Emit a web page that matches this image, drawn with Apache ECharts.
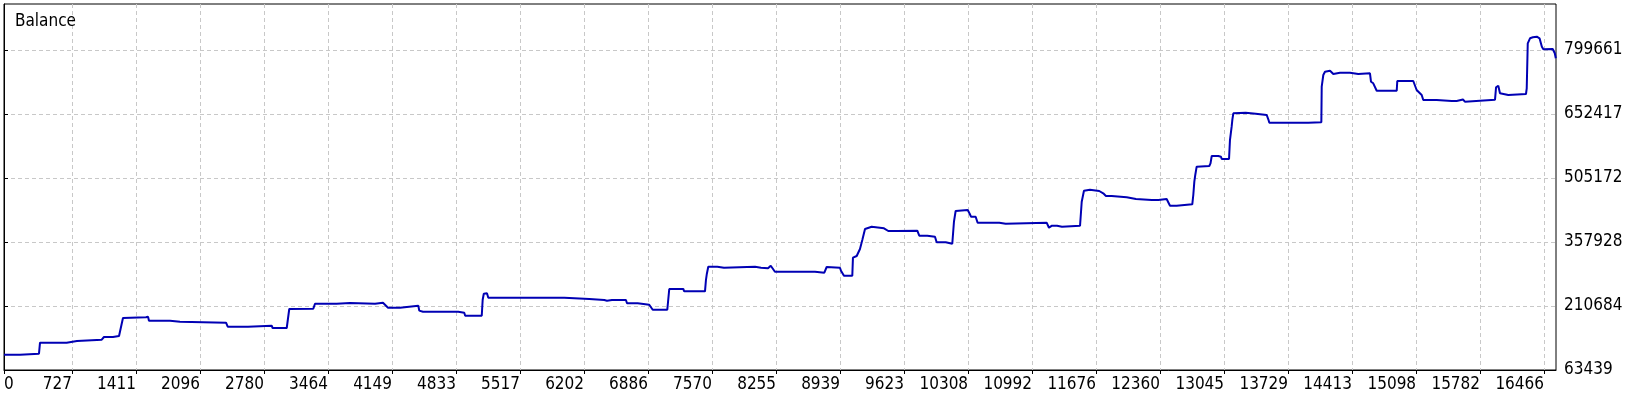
<!DOCTYPE html>
<html>
<head>
<meta charset="utf-8">
<script src="https://cdn.jsdelivr.net/npm/echarts@6/dist/echarts.min.js"></script>
<style>
html,body{margin:0;padding:0;background:#fff;}
#c{width:1640px;height:400px;}
</style>
</head>
<body>
<div id="c"></div>
<script>
var TITLE = 'Balance';
var X_TICKS = [0, 727, 1411, 2096, 2780, 3464, 4149, 4833, 5517, 6202, 6886, 7570, 8255, 8939, 9623, 10308, 10992, 11676, 12360, 13045, 13729, 14413, 15098, 15782, 16466];
var Y_TICKS = [63439, 210684, 357928, 505172, 652417, 799661];
var X_MIN = 0, X_MAX = 16594;
var Y_MIN = 63439, Y_MAX = 905500;

var tradeIndex = [0,171,180,374,385,670,680,780,790,1045,1069,1165,1175,1230,1240,1272,1290,1518,1526,1540,1550,1579,1775,1785,1882,1892,2374,2392,2609,2620,2862,2872,3023,3050,3070,3307,3325,3557,3567,3699,3709,3967,3977,4052,4106,4234,4244,4430,4440,4480,4857,4867,4921,4931,5108,5118,5130,5143,5164,5178,5991,6000,6258,6268,6418,6430,6447,6458,6500,6511,6522,6650,6661,6775,6785,6899,6936,7092,7113,7263,7273,7495,7505,7515,7530,7627,7637,7698,7708,8030,8040,8094,8100,8106,8169,8198,8243,8671,8681,8771,8796,8938,8949,8981,9070,9077,9117,9152,9177,9206,9224,9277,9291,9409,9455,9545,9552,9559,9765,9786,9872,9882,9954,9972,10069,10079,10139,10157,10175,10190,10304,10328,10340,10389,10410,10642,10652,10710,10720,11148,11173,11205,11259,11269,11312,11322,11505,11523,11547,11560,11611,11621,11710,11715,11753,11782,11843,11853,12004,12014,12103,12113,12271,12280,12290,12342,12352,12431,12467,12538,12548,12705,12716,12727,12737,12752,12770,12887,12900,12913,12983,12990,13012,13020,13098,13108,13126,13134,13144,13160,13276,13286,13383,13390,13395,13501,13518,13529,13946,13960,14085,14089,14106,14124,14178,14213,14284,14391,14402,14480,14490,14605,14616,14640,14677,14891,14897,15068,15086,15104,15158,15175,15318,15328,15479,15485,15500,15532,15540,15599,15620,15630,15781,15790,15942,15953,15977,15995,16013,16084,16094,16273,16281,16292,16316,16347,16389,16418,16443,16459,16559,16581,16592];
var balance = [98640,98640,100940,100940,126248,126248,130159,130159,133150,133150,139362,139362,141662,141662,145000,183075,184685,184685,186066,186066,176863,176863,176863,174562,174562,172262,172262,163059,163059,165360,165360,160068,160068,203781,204471,204471,215975,215975,217585,217585,215975,215975,218275,218275,206772,206772,211373,211373,200000,197569,197569,195269,195269,188366,188366,225000,238982,239902,239902,229779,229779,226788,226788,224487,224487,222877,222877,224487,224487,227478,224487,224487,216895,216895,213674,213674,202171,202171,249795,249795,244503,244503,270000,285000,301100,301100,298800,298800,301100,301100,298800,298800,301000,297419,297419,303401,289597,289597,287296,287296,300410,298800,291898,280394,280394,321806,325718,341822,362529,387836,390827,393128,389447,389447,383235,383235,385536,383925,383925,372422,372422,370121,370121,357237,357237,354016,354016,404631,429249,431549,431549,421656,416135,416135,402331,402331,400030,400030,402331,402331,390827,395429,395429,393128,393128,395429,395429,450645,475953,478253,478253,475263,475263,477563,469971,463759,463759,460768,460768,456857,456857,454556,454556,456857,454556,454556,456857,456857,441442,441442,444663,444663,466060,496659,512074,531169,532780,532780,538992,555787,555787,558087,554176,548885,548885,592598,623197,640222,654026,655407,655407,653106,653106,655407,650115,650115,640222,632400,632400,633320,633320,715224,742143,749735,752036,744443,747434,747434,744443,744443,746054,746054,726728,723047,706022,706022,728338,728338,726728,707632,696129,684625,684625,682325,682325,686236,682325,682325,685800,685800,680714,683015,683015,685315,685315,713844,717525,700040,696129,696129,698429,698429,711543,815074,826577,828879,830259,826577,807252,801270,801960,792068,780564];

var FONT = '"DejaVu Sans Condensed", "DejaVu Sans", sans-serif';
var points = tradeIndex.map(function (x, i) { return [x, balance[i]]; });

var chart = echarts.init(document.getElementById('c'), null, {renderer: 'canvas'});
chart.setOption({
  animation: false,
  backgroundColor: '#ffffff',
  title: {
    text: TITLE, left: 10, top: 8,
    textStyle: {fontFamily: FONT, fontSize: 17, fontWeight: 'normal', color: '#000'}
  },
  grid: {
    left: 4, top: 4, right: 84, bottom: 30,
    show: true, borderColor: '#000', borderWidth: 1, backgroundColor: '#fff'
  },
  xAxis: {
    type: 'value', min: X_MIN, max: X_MAX,
    axisLine: {show: true, lineStyle: {color: '#000', width: 1}},
    axisTick: {show: true, length: 4, lineStyle: {color: '#000'}, customValues: X_TICKS},
    axisLabel: {
      customValues: X_TICKS, align: 'right', alignMinLabel: 'left', margin: 6,
      fontFamily: FONT, fontSize: 17, color: '#000',
      formatter: function (v) { return String(v); }
    },
    splitLine: {show: true, lineStyle: {color: '#c8c8c8', type: [4, 3], width: 1}}
  },
  yAxis: {
    type: 'value', position: 'right', min: Y_MIN, max: Y_MAX,
    axisLine: {show: true, lineStyle: {color: '#000', width: 1}},
    axisTick: {show: true, length: 4, lineStyle: {color: '#000'}, customValues: Y_TICKS},
    axisLabel: {
      customValues: Y_TICKS, margin: 8, padding: [4, 0, 0, 0],
      fontFamily: FONT, fontSize: 17, color: '#000',
      formatter: function (v) { return String(v); }
    },
    splitLine: {show: true, lineStyle: {color: '#c8c8c8', type: [4, 3], width: 1}}
  },
  series: [{
    type: 'line', data: points, showSymbol: false, symbol: 'none',
    lineStyle: {color: '#0000b4', width: 2}, itemStyle: {color: '#0000b4'},
    clip: true
  }]
});
</script>
</body>
</html>
